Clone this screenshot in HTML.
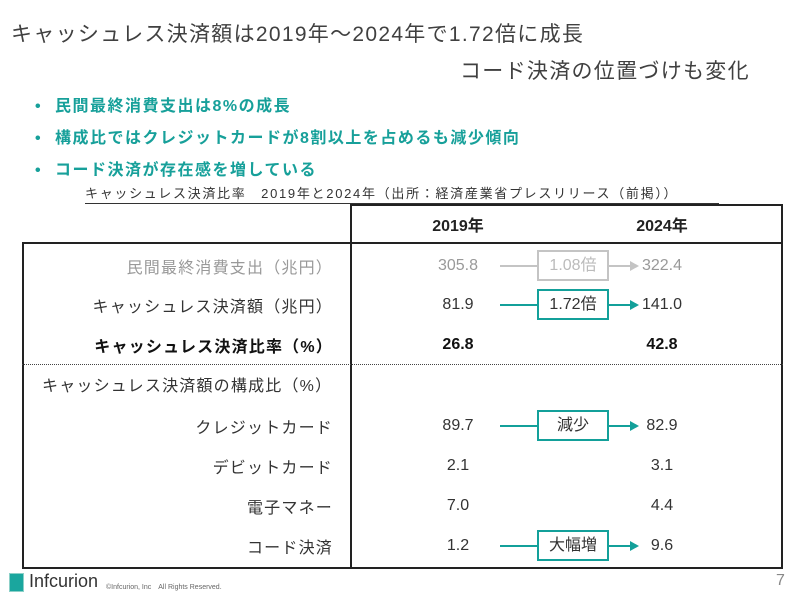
<!DOCTYPE html>
<html><head><meta charset="utf-8">
<style>
body{margin:0;width:800px;height:595px;background:#fff;position:relative;overflow:hidden;font-family:"Liberation Sans","Noto Sans CJK JP",sans-serif;color:#404040}
.a{position:absolute;white-space:nowrap}
.title{font-size:21px;color:#404040;letter-spacing:1.3px}
.bul{font-size:16px;font-weight:bold;color:#17a09a;left:35px;letter-spacing:1.5px}
.bul span{display:inline-block;width:20px}
.ln{position:absolute;background:#222}
.cell{position:absolute;font-size:16px;color:#222;white-space:nowrap;transform:translateY(-50%)}
.c{text-align:center;transform:translate(-50%,-50%)}
</style></head><body>
<div class="a title" style="left:11px;top:18px">キャッシュレス決済額は2019年～2024年で1.72倍に成長</div>
<div class="a title" style="left:460px;top:55px">コード決済の位置づけも変化</div>
<div class="a bul" style="top:92px"><span>•</span>民間最終消費支出は8%の成長</div>
<div class="a bul" style="top:124px"><span>•</span>構成比ではクレジットカードが8割以上を占めるも減少傾向</div>
<div class="a bul" style="top:156px"><span>•</span>コード決済が存在感を増している</div>
<div class="a" style="left:85px;top:183px;font-size:13px;color:#333;border-bottom:1px solid #333;padding:0 2px 1px 0;width:632px;letter-spacing:1.7px">キャッシュレス決済比率　2019年と2024年（出所：経済産業省プレスリリース（前掲））</div>

<div id="tbl">
<div class="ln" style="left:350px;top:204px;width:433px;height:1.5px"></div>
<div class="ln" style="left:22px;top:242px;width:761px;height:1.5px"></div>
<div class="ln" style="left:22px;top:567px;width:761px;height:1.5px"></div>
<div class="ln" style="left:22px;top:242px;width:1.5px;height:326px"></div>
<div class="ln" style="left:350px;top:204px;width:1.5px;height:364px"></div>
<div class="ln" style="left:781px;top:204px;width:1.5px;height:364px"></div>
<div style="position:absolute;left:22px;top:364px;width:761px;border-top:1.5px dotted #444"></div>
<div class="cell c" style="left:458px;top:224px;font-weight:bold">2019年</div>
<div class="cell c" style="left:662px;top:224px;font-weight:bold">2024年</div>
</div>

<div class="a" style="left:9px;top:573px;width:13px;height:17px;background:#1aa69e;border:1px solid #8cd0c8"></div>
<div class="a" style="left:29px;top:571px;font-size:18px;color:#333">Infcurion</div>
<div class="a" style="left:106px;top:582px;font-size:7px;color:#666">©Infcurion, Inc　All Rights Reserved.</div>
<div class="a" style="left:776px;top:572px;font-size:16px;color:#888">7</div>

<script>
const rowLabels=["民間最終消費支出（兆円）","キャッシュレス決済額（兆円）","キャッシュレス決済比率（%）","キャッシュレス決済額の構成比（%）","クレジットカード","デビットカード","電子マネー","コード決済"];
const values2019=["305.8","81.9","26.8","","89.7","2.1","7.0","1.2"];
const values2024=["322.4","141.0","42.8","","82.9","3.1","4.4","9.6"];
const arrowLabels=["1.08倍","1.72倍","","","減少","","","大幅増"];
const rowY=[266,305,345,384,426,466,506,546];
const tbl=document.getElementById('tbl');
rowLabels.forEach((lab,i)=>{
  const gray=i===0, bold=i===2, sec=i===3;
  const col=gray?'#999':'#333';
  const l=document.createElement('div');
  l.className='cell';
  
  
  l.textContent=lab;
  l.style.top=rowY[i]+'px';
  l.style.color=col;
  l.style.letterSpacing='1.2px';
  if(bold){l.style.fontWeight='bold';l.style.color='#111';}
  if(sec){l.style.left='42px';}else{l.style.right=(800-333)+'px';}
  tbl.appendChild(l);
  [[values2019[i],458,'value-2019-'],[values2024[i],662,'value-2024-']].forEach(([v,x,n])=>{
    if(!v)return;
    const d=document.createElement('div');
    d.className='cell c';
    
    
    d.textContent=v;d.style.left=x+'px';d.style.top=rowY[i]+'px';
    d.style.color=bold?'#111':col; if(bold)d.style.fontWeight='bold';
    tbl.appendChild(d);
  });
  if(arrowLabels[i]){
    const ac=gray?'#c4c4c4':'#13a09a';
    const ln=document.createElement('div');
    
    
    ln.style.cssText='position:absolute;left:500px;width:130px;height:2px;background:'+ac+';top:'+(rowY[i]-1)+'px';
    tbl.appendChild(ln);
    const hd=document.createElement('div');
    
    
    hd.style.cssText='position:absolute;left:630px;width:0;height:0;border-left:9px solid '+ac+';border-top:5px solid transparent;border-bottom:5px solid transparent;top:'+(rowY[i]-5)+'px';
    tbl.appendChild(hd);
    const b=document.createElement('div');
    
    
    b.textContent=arrowLabels[i];
    b.style.cssText='position:absolute;left:537px;width:68px;height:27px;line-height:27px;text-align:center;font-size:16px;background:#fff;border:2.5px solid '+ac+';color:'+(gray?'#bbb':'#333')+';top:'+(rowY[i]-16)+'px';
    tbl.appendChild(b);
  }
});
</script>
</body></html>
